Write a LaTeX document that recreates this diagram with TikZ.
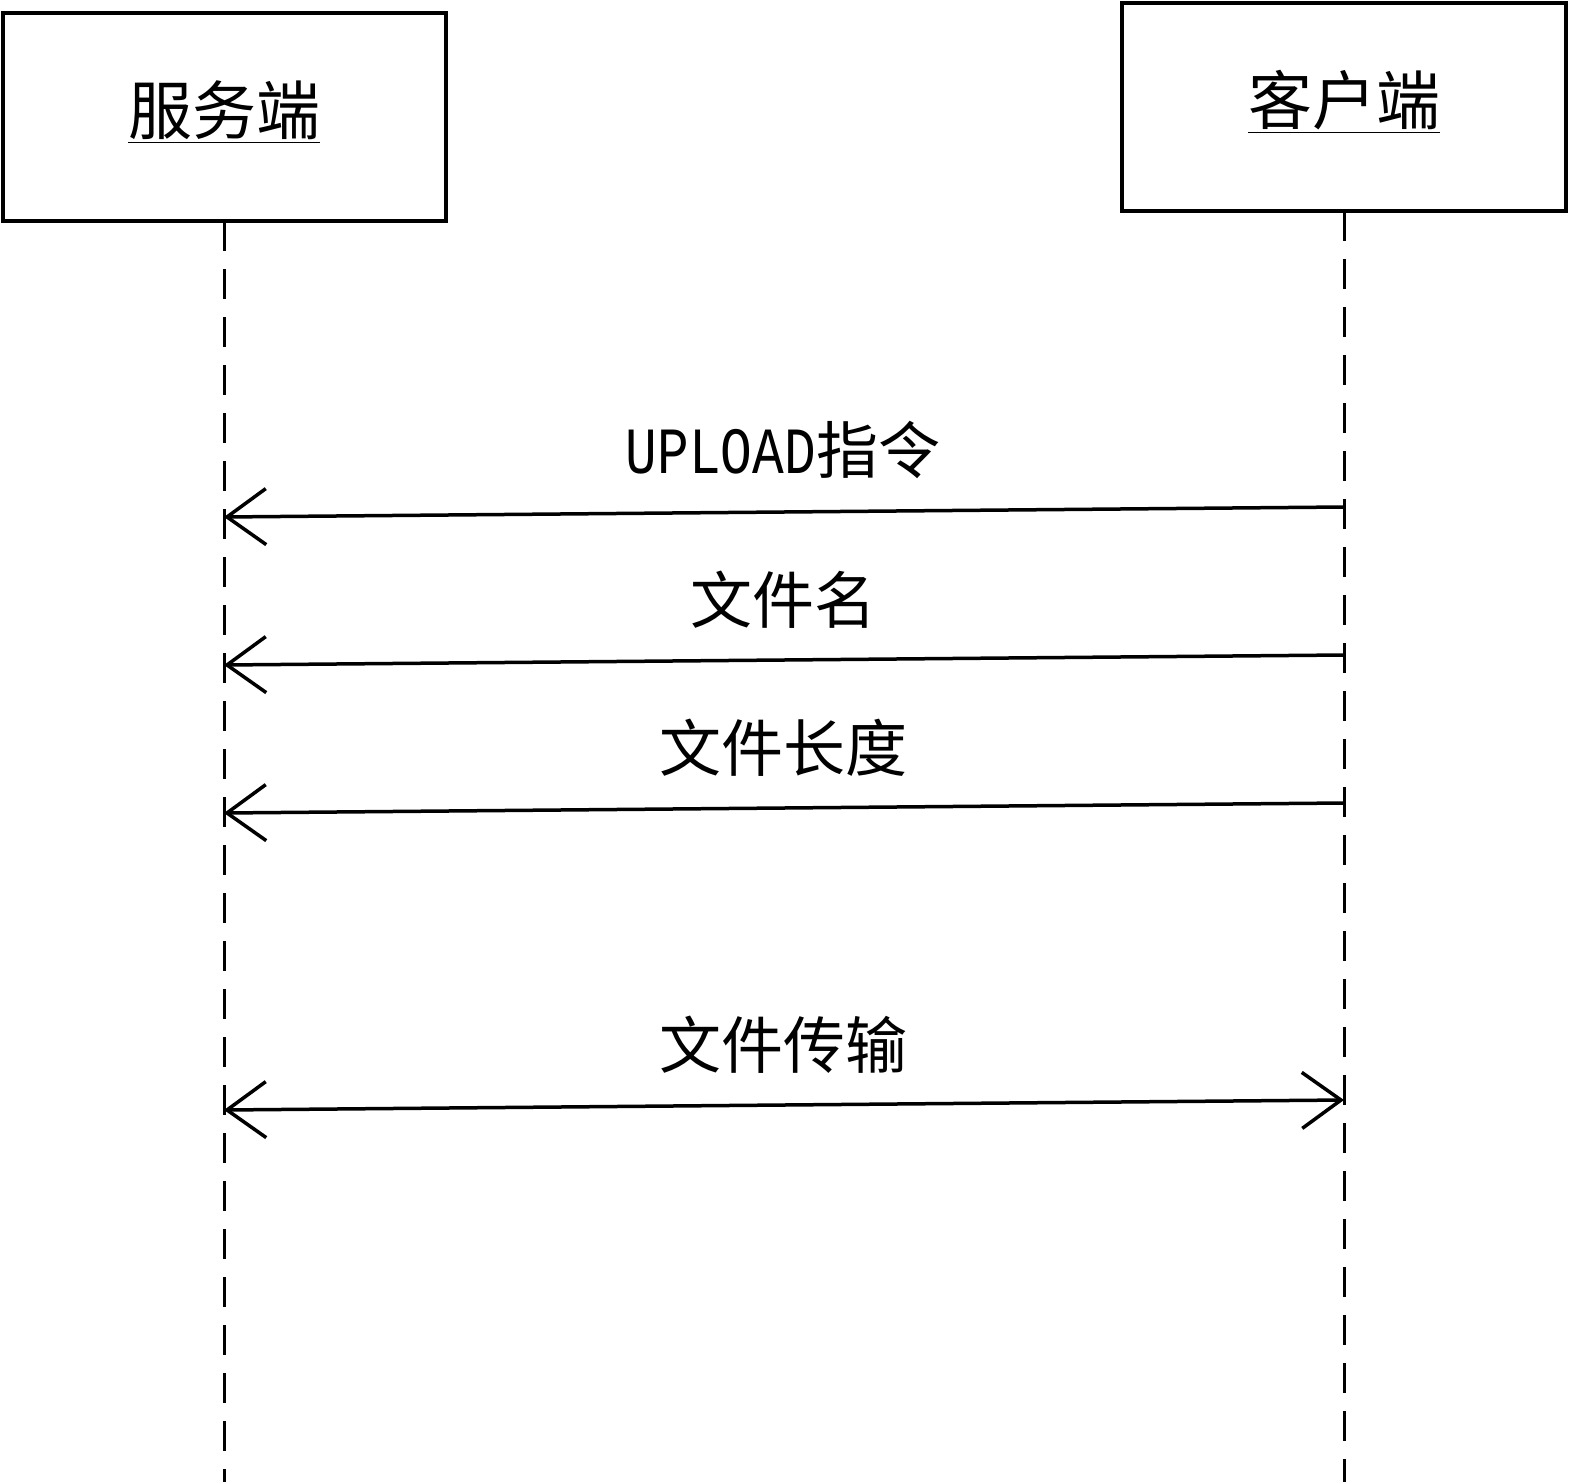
\documentclass[tikz,border=0pt]{standalone}
\usepackage{fontspec}
\newfontfamily\cjk{Noto Sans CJK SC}
\newfontfamily\monofam{Liberation Mono}
\usetikzlibrary{arrows.meta}
\tikzset{
  actorbox/.style={draw, line width=1.75pt},
  actorlabel/.style={font=\cjk\fontsize{32}{36}\selectfont, inner sep=0pt},
  msglabel/.style={font=\cjk\fontsize{31}{36}\selectfont, inner sep=0pt},
  lifeline/.style={line width=1.5pt, dash pattern=on 15pt off 9pt},
  msg/.style={line width=1.75pt, -{Straight Barb[length=19.5pt,width=28pt,line width=1.75pt]}},
  msgboth/.style={line width=1.75pt, {Straight Barb[length=19.5pt,width=28pt,line width=1.75pt]}-{Straight Barb[length=19.5pt,width=28pt,line width=1.75pt]}}
}
\begin{document}
\begin{tikzpicture}[x=0.5pt,y=-0.5pt]
\useasboundingbox (0,0) rectangle (1589,1482);
\draw[actorbox] (3,13) rectangle (446,221);
\draw[actorbox] (1122,3) rectangle (1566,211);
\node[actorlabel] (server) at (224,112) {\underline{服务端}};
\node[actorlabel] (client) at (1344,102) {\underline{客户端}};
\coordinate (sTop) at (224,221);
\coordinate (sBot) at (224,1482);
\coordinate (cTop) at (1344,211);
\coordinate (cBot) at (1344,1482);
\draw[lifeline] (sTop) -- (sBot);
\draw[lifeline] (cTop) -- (cBot);
\coordinate (c1) at (1344,507); \coordinate (s1) at (224,517);
\coordinate (c2) at (1344,655); \coordinate (s2) at (224,665);
\coordinate (c3) at (1344,803); \coordinate (s3) at (224,813);
\coordinate (c4) at (1344,1100); \coordinate (s4) at (224,1110);
\draw[msg] (c1) -- (s1);
\draw[msg] (c2) -- (s2);
\draw[msg] (c3) -- (s3);
\draw[msgboth] (s4) -- (c4);
\node[msglabel] (l1) at (783,450) {\scalebox{0.8}[1]{\monofam\fontsize{33}{36}\selectfont UPLOAD}指令};
\node[msglabel] (l2) at (783,600) {文件名};
\node[msglabel] (l3) at (783,748) {文件长度};
\node[msglabel] (l4) at (783,1045) {文件传输};
\end{tikzpicture}
\end{document}
